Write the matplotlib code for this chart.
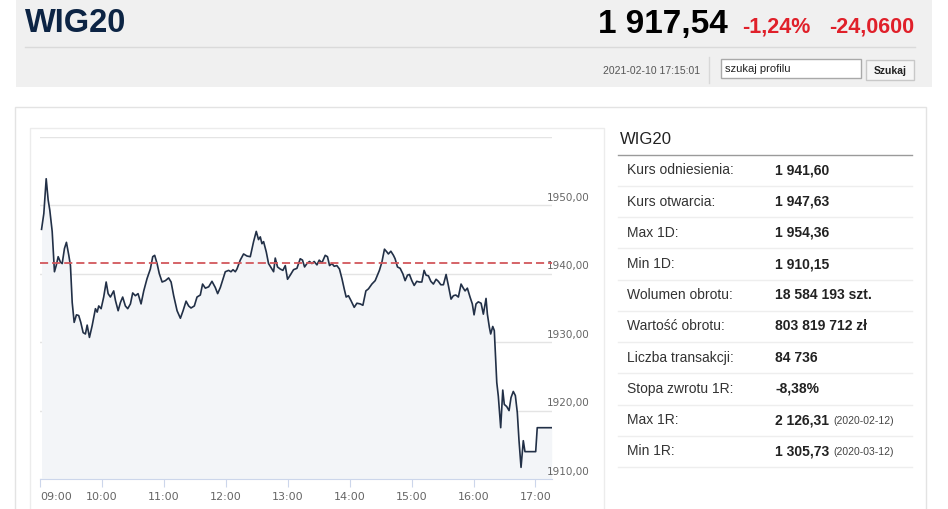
import matplotlib
matplotlib.use("Agg")
import matplotlib.pyplot as plt
import matplotlib.transforms as mtransforms
from matplotlib.patches import Rectangle
from matplotlib.lines import Line2D

W, H = 948, 509

# notowania WIG20 z 10.02.2021, czas w minutach od 09:00
minuty = [1.5, 3.7, 6.0, 7.9, 9.5, 11.8, 14.0, 15.7, 17.6, 19.8, 21.5, 23.7, 25.6, 27.9, 29.5,
          31.2, 33.1, 35.3, 37.5, 39.5, 41.8, 44.0, 45.7, 47.9, 50.5, 53.7, 55.4, 56.9, 59.2,
          61.7, 64.1, 66.0, 68.2, 71.4, 73.1, 75.7, 77.9, 80.1, 82.7, 85.0, 87.6, 89.8, 92.4,
          95.0, 97.9, 100.5, 103.7, 106.9, 109.2, 111.1, 113.4, 115.6, 118.3, 121.5, 124.6,
          127.0, 129.5, 132.8, 136.0, 138.6, 141.5, 144.0, 146.3, 149.5, 152.1, 155.3, 157.5,
          160.2, 163.4, 166.6, 169.8, 172.1, 174.7, 179.5, 182.7, 185.0, 187.0, 189.2, 190.8,
          194.0, 197.2, 200.5, 203.7, 206.9, 209.5, 211.7, 213.4, 215.0, 216.6, 219.2, 221.4,
          224.7, 226.3, 227.9, 230.1, 232.7, 235.3, 237.6, 239.8, 242.4, 245.6, 248.9, 252.1,
          254.3, 256.3, 258.6, 261.1, 263.4, 265.6, 268.3, 270.5, 273.1, 276.3, 278.5, 280.5,
          282.8, 285.0, 287.6, 290.1, 292.5, 294.7, 296.6, 298.8, 301.2, 304.4, 307.0, 310.2,
          312.8, 315.7, 318.2, 321.5, 324.7, 328.8, 331.2, 333.7, 336.0, 337.5, 339.9, 342.4,
          344.0, 346.3, 348.9, 351.5, 353.7, 356.0, 357.9, 360.2, 362.5, 365.0, 367.5, 369.9,
          372.1, 374.0, 376.3, 378.6, 381.1, 383.7, 385.9, 388.3, 390.8, 393.4, 395.6, 398.2,
          400.5, 402.8, 405.3, 407.9, 410.1, 411.8, 414.0, 416.6, 418.8, 420.5, 422.4, 424.6,
          427.3, 429.5, 432.1, 433.4, 435.3, 436.6, 438.6, 440.1, 442.5, 444.0, 446.3, 448.3,
          449.8, 452.1, 454.4, 456.3, 458.5, 460.5, 462.4, 464.0, 466.0, 468.2, 469.8, 471.5,
          480.2, 481.7, 495.7]
kurs = [1946.5, 1948.8, 1953.9, 1950.8, 1949.3, 1946.2, 1940.3, 1941.2, 1942.5, 1941.7, 1941.5,
        1943.7, 1944.6, 1942.7, 1941.2, 1935.8, 1932.9, 1934.0, 1933.9, 1932.9, 1931.4, 1931.2,
        1932.5, 1930.7, 1932.4, 1934.9, 1934.4, 1935.3, 1934.9, 1936.6, 1938.8, 1937.1, 1936.6,
        1937.5, 1936.1, 1934.6, 1935.8, 1936.6, 1935.3, 1934.9, 1935.6, 1937.2, 1936.8, 1937.1,
        1935.6, 1937.5, 1939.3, 1940.7, 1942.5, 1942.7, 1941.5, 1940.0, 1938.8, 1939.0, 1939.4,
        1938.8, 1936.8, 1934.6, 1933.5, 1934.6, 1936.0, 1935.3, 1935.0, 1935.3, 1936.6, 1936.9,
        1938.5, 1937.9, 1938.1, 1938.9, 1938.0, 1937.1, 1938.0, 1940.3, 1940.5, 1940.3, 1940.6,
        1940.3, 1940.7, 1942.0, 1942.9, 1942.6, 1942.5, 1944.7, 1946.2, 1945.0, 1945.4, 1944.4,
        1944.7, 1943.2, 1941.5, 1940.7, 1940.3, 1942.3, 1941.0, 1940.7, 1940.5, 1941.2, 1939.2,
        1939.8, 1940.6, 1940.8, 1942.2, 1942.0, 1941.0, 1941.5, 1941.8, 1941.5, 1941.8, 1941.3,
        1942.0, 1941.6, 1942.7, 1942.5, 1941.2, 1941.5, 1941.1, 1941.2, 1940.7, 1939.3, 1937.8,
        1936.6, 1936.8, 1936.1, 1935.1, 1935.7, 1935.6, 1935.4, 1937.5, 1937.8, 1938.5, 1939.0,
        1940.5, 1941.7, 1943.6, 1943.2, 1942.9, 1943.3, 1942.7, 1942.2, 1941.0, 1940.8, 1940.0,
        1939.0, 1939.8, 1939.9, 1939.0, 1938.3, 1938.9, 1938.8, 1938.8, 1940.5, 1939.8, 1939.7,
        1938.9, 1938.5, 1939.2, 1938.9, 1938.4, 1938.4, 1939.9, 1938.3, 1936.3, 1936.8, 1936.9,
        1936.6, 1938.5, 1937.9, 1937.5, 1937.9, 1936.6, 1935.6, 1934.0, 1935.6, 1935.9, 1935.7,
        1934.1, 1936.4, 1934.1, 1932.2, 1931.2, 1932.3, 1931.7, 1924.1, 1922.1, 1917.5, 1923.0,
        1920.9, 1920.6, 1920.0, 1921.9, 1922.8, 1922.2, 1919.7, 1915.7, 1911.7, 1915.6, 1914.0,
        1914.0, 1914.0, 1917.5, 1917.5]
kurs_odniesienia = 1941.60
godziny = ["09:00", "10:00", "11:00", "12:00", "13:00", "14:00", "15:00", "16:00", "17:00"]
godziny_min = [0, 60, 120, 180, 240, 300, 360, 420, 480]
poziomy = [1910, 1920, 1930, 1940, 1950]
poziomy_txt = ["1910,00", "1920,00", "1930,00", "1940,00", "1950,00"]

etykiety = ["Kurs odniesienia:", "Kurs otwarcia:", "Max 1D:", "Min 1D:", "Wolumen obrotu:",
            "Wartość obrotu:", "Liczba transakcji:", "Stopa zwrotu 1R:", "Max 1R:", "Min 1R:"]
wartosci = ["1 941,60", "1 947,63", "1 954,36", "1 910,15", "18 584 193 szt.",
            "803 819 712 zł", "84 736", "-8,38%", "2 126,31", "1 305,73"]
daty = ["", "", "", "", "", "", "", "", "(2020-02-12)", "(2020-03-12)"]

arial = ["Liberation Sans", "DejaVu Sans"]

fig = plt.figure(figsize=(W / 100, H / 100), dpi=100)
fig.patch.set_facecolor("white")


def prost(x0, y0, x1, y1, fc, ec="none", lw=1.0):
    fig.patches.append(Rectangle((x0 / W, 1 - y1 / H), (x1 - x0) / W, (y1 - y0) / H,
                                 transform=fig.transFigure, fc=fc, ec=ec, lw=lw, zorder=-5))


def linia(x0, y0, x1, y1, color, lw=1.0):
    fig.lines.append(Line2D([x0 / W, x1 / W], [1 - y0 / H, 1 - y1 / H],
                            transform=fig.transFigure, color=color, lw=lw, zorder=-4))


def tekst(x, y, s, **kw):
    kw.setdefault("va", "center")
    kw.setdefault("family", arial)
    fig.text(x / W, 1 - y / H, s, **kw)


# naglowek
prost(16, -2, 932, 87, "#f0f0f0")
linia(25, 47, 915, 47, "#dadada")
tekst(25, 32, "WIG20", fontsize=23.5, fontweight="bold", color="#0c2444", va="baseline")
tekst(728, 33, "1 917,54", fontsize=24, fontweight="bold", color="black", ha="right", va="baseline")
tekst(742, 32, "-1,24%", fontsize=15.5, fontweight="bold", color="#e0202a", va="baseline")
tekst(914, 32, "-24,0600", fontsize=15.5, fontweight="bold", color="#e0202a", ha="right", va="baseline")
tekst(700, 74, "2021-02-10 17:15:01", fontsize=7.5, color="#555555", ha="right", va="baseline")
linia(709, 57, 709, 83, "#d8d8d8")
prost(721, 59, 861, 78, "white", "#a9a9a9")
tekst(725, 72, "szukaj profilu", fontsize=8, color="#222222", va="baseline")
prost(866, 60, 914, 80, "#f6f6f6", "#c8c8c8")
tekst(890, 74, "Szukaj", fontsize=7.5, fontweight="bold", color="#222222", ha="center", va="baseline")

# karty
prost(15, 107, 926, 520, "white", "#e3e3e3")
prost(30, 128, 604, 520, "white", "#ececec")

# wykres
ax = fig.add_axes([40 / W, 1 - 479 / H, 512 / W, 342 / H])
ax.patch.set_visible(False)
ax.set_xlim(0, 496)
ax.set_ylim(1910, 1960)
ax.fill_between(minuty, kurs, 1910, color="#f3f5f8", lw=0, zorder=1)
ax.set_yticks(poziomy + [1960])
ax.yaxis.grid(True, color="#e4e4e4", lw=1)
ax.set_axisbelow(True)
ax.tick_params(axis="y", length=0, labelleft=False)
ax.plot(minuty, kurs, color="#223047", lw=1.2, zorder=3)
ax.axhline(kurs_odniesienia, color="#d2575c", lw=1.3, ls=(0, (4.5, 2.2)), zorder=4)
for s in ["top", "left", "right"]:
    ax.spines[s].set_visible(False)
ax.spines["bottom"].set_color("#ccd6eb")
ax.set_xticks(godziny_min)
ax.set_xticklabels(godziny)
ax.tick_params(axis="x", length=6, color="#ccd6eb", labelcolor="#666666", labelsize=8, pad=3)
for lab in ax.get_xticklabels():
    lab.set_family("DejaVu Sans")
ax.get_xticklabels()[0].set_horizontalalignment("left")
tr = mtransforms.blended_transform_factory(ax.transAxes, ax.transData)
for v, t in zip(poziomy, poziomy_txt):
    ax.text(0.99, v + 0.35, t, transform=tr, ha="left", va="bottom", fontsize=7.5,
            color="#666666", family="DejaVu Sans", clip_on=False)

# tabela
tekst(620, 139, "WIG20", fontsize=12, color="#222222")
linia(618, 155, 912, 155, "#9a9a9a")
y0 = 170.5
for i, (e, w, d) in enumerate(zip(etykiety, wartosci, daty)):
    y = y0 + i * 31.2
    tekst(627, y, e, fontsize=10, color="#333333")
    tekst(775, y, w, fontsize=10, fontweight="bold", color="#222222")
    if d:
        tekst(833, y + 0.5, d, fontsize=7.5, color="#444444")
    linia(618, y + 15.6, 912, y + 15.6, "#eeeeee")

fig.savefig("out.png", dpi=100)
